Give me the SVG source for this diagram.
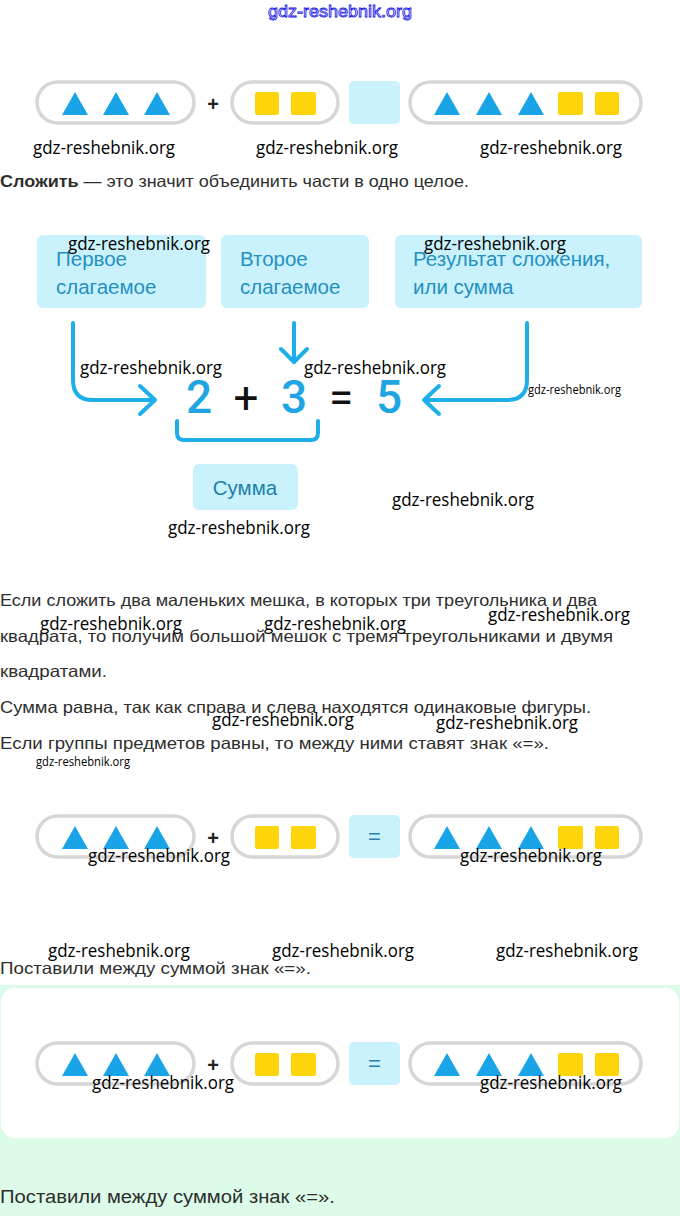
<svg xmlns="http://www.w3.org/2000/svg" xmlns:xlink="http://www.w3.org/1999/xlink" width="680" height="1216" viewBox="0 0 680 1216">
<style>
.wm{font-family:"Open Sans","Noto Sans",sans-serif;font-size:18.5px;fill:#000}
.wms{font-family:"Open Sans","Noto Sans",sans-serif;font-size:12px;fill:#000}
.body{font-family:"Liberation Sans","Roboto",sans-serif;font-size:16.5px;fill:#2e2e2e}
.btxt{font-family:"Liberation Sans","Roboto",sans-serif;font-size:20.5px;fill:#2590c2}
.pill{fill:#fff;stroke:#d6d6d6;stroke-width:3.5}
.tri{fill:#1aa4e8}
.sq{fill:#fdd50a}
.lbox{fill:#c9f2fc}
.plus{font-family:"Liberation Sans",sans-serif;font-size:20px;font-weight:bold;fill:#222}
.eq{font-family:"Liberation Sans",sans-serif;font-size:22px;fill:#2a7fae}
.conn{fill:none;stroke:#1eaeea;stroke-width:4;stroke-linecap:round;stroke-linejoin:round}
.dig{font-family:"Roboto","Liberation Sans",sans-serif;font-size:46px;font-weight:500;fill:#1fa6e2}
.op{font-family:"Roboto","Liberation Sans",sans-serif;font-size:44px;font-weight:400;fill:#111}
</style>
<defs>
<g id="row">
<rect class="pill" x="37" y="0" width="157" height="41" rx="20.5"/>
<polygon class="tri" points="62,33 75,10 88,33"/>
<polygon class="tri" points="103,33 116,10 129,33"/>
<polygon class="tri" points="144,33 157,10 170,33"/>
<text class="plus" x="213" y="29" text-anchor="middle">+</text>
<rect class="pill" x="232" y="0" width="106" height="41" rx="20.5"/>
<rect class="sq" x="255" y="10" width="24" height="23" rx="2"/>
<rect class="sq" x="291" y="10" width="25" height="23" rx="2"/>
<rect class="lbox" x="349" y="-1" width="51" height="43" rx="5"/>
<rect class="pill" x="410" y="0" width="231" height="41" rx="20.5"/>
<polygon class="tri" points="434,33 447,10 460,33"/>
<polygon class="tri" points="476,33 489,10 502,33"/>
<polygon class="tri" points="518,33 531,10 544,33"/>
<rect class="sq" x="558" y="10" width="25" height="23" rx="2"/>
<rect class="sq" x="595" y="10" width="24" height="23" rx="2"/>
</g>
</defs>
<rect x="0" y="0" width="680" height="1216" fill="#fff"/>
<rect x="0" y="985" width="680" height="231" fill="#dcfbe9"/>
<rect x="1" y="988" width="678" height="150" rx="14" fill="#fff"/>

<text x="340" y="17" text-anchor="middle" font-family="Liberation Sans,sans-serif" font-size="16" fill="#fff" stroke="#2020e8" stroke-width="0.8" textLength="144" lengthAdjust="spacingAndGlyphs">gdz-reshebnik.org</text>

<g id="row1"><use xlink:href="#row" href="#row" y="82"/></g>

<text class="body" x="0" y="187" textLength="469" lengthAdjust="spacingAndGlyphs"><tspan font-weight="bold">Сложить</tspan> — это значит объединить части в одно целое.</text>

<g id="box1"><rect class="lbox" x="37" y="235" width="169" height="73" rx="6"/>
<text class="btxt" x="56" y="266">Первое</text><text class="btxt" x="56" y="294">слагаемое</text></g>
<g id="box2"><rect class="lbox" x="221" y="235" width="148" height="73" rx="6"/>
<text class="btxt" x="240" y="266">Второе</text><text class="btxt" x="240" y="294">слагаемое</text></g>
<g id="box3"><rect class="lbox" x="395" y="235" width="247" height="73" rx="6"/>
<text class="btxt" x="413" y="266">Результат сложения,</text><text class="btxt" x="413" y="294">или сумма</text></g>

<g id="connectors">
<path class="conn" d="M73,323 V380 Q73,400 93,400 H154"/>
<path class="conn" d="M140,386 L155,400 L140,414"/>
<path class="conn" d="M294,323 V362"/>
<path class="conn" d="M281,349 L294,362 L307,349"/>
<path class="conn" d="M527,323 V380 Q527,400 507,400 H425"/>
<path class="conn" d="M439,386 L424,400 L439,414"/>
<path class="conn" d="M177,421 V433 Q177,440 184,440 H311 Q318,440 318,433 V421"/>
</g>

<g id="equation">
<text class="dig" x="199" y="413" text-anchor="middle">2</text>
<text class="op" x="246" y="413" text-anchor="middle">+</text>
<text class="dig" x="294" y="413" text-anchor="middle">3</text>
<text class="op" x="341" y="413" text-anchor="middle">=</text>
<text class="dig" x="389" y="413" text-anchor="middle">5</text>
</g>

<g id="summa"><rect class="lbox" x="193" y="464" width="105" height="46" rx="6"/>
<text class="btxt" x="245" y="495" text-anchor="middle" style="fill:#1c7fac">Сумма</text></g>

<text class="body" x="0" y="606" textLength="597" lengthAdjust="spacingAndGlyphs">Если сложить два маленьких мешка, в которых три треугольника и два</text>
<text class="body" x="0" y="642" textLength="613" lengthAdjust="spacingAndGlyphs">квадрата, то получим большой мешок с тремя треугольниками и двумя</text>
<text class="body" x="0" y="677" textLength="107" lengthAdjust="spacingAndGlyphs">квадратами.</text>
<text class="body" x="0" y="713" textLength="591" lengthAdjust="spacingAndGlyphs">Сумма равна, так как справа и слева находятся одинаковые фигуры.</text>
<text class="body" x="0" y="749" textLength="549" lengthAdjust="spacingAndGlyphs">Если группы предметов равны, то между ними ставят знак «=».</text>

<g id="row2"><use xlink:href="#row" href="#row" y="816"/>
<text class="eq" x="374.5" y="844" text-anchor="middle">=</text></g>

<text class="body" x="0" y="974" textLength="311" lengthAdjust="spacingAndGlyphs">Поставили между суммой знак «=».</text>

<g id="row3"><use xlink:href="#row" href="#row" y="1043"/>
<text class="eq" x="374.5" y="1071" text-anchor="middle">=</text></g>

<text class="body" x="0" y="1203" style="font-size:18px" textLength="335" lengthAdjust="spacingAndGlyphs">Поставили между суммой знак «=».</text>

<g id="watermarks">
<text class="wm" x="33" y="154" textLength="142" lengthAdjust="spacingAndGlyphs">gdz-reshebnik.org</text>
<text class="wm" x="256" y="154" textLength="142" lengthAdjust="spacingAndGlyphs">gdz-reshebnik.org</text>
<text class="wm" x="480" y="154" textLength="142" lengthAdjust="spacingAndGlyphs">gdz-reshebnik.org</text>
<text class="wm" x="68" y="250" textLength="142" lengthAdjust="spacingAndGlyphs">gdz-reshebnik.org</text>
<text class="wm" x="424" y="250" textLength="142" lengthAdjust="spacingAndGlyphs">gdz-reshebnik.org</text>
<text class="wm" x="80" y="374" textLength="142" lengthAdjust="spacingAndGlyphs">gdz-reshebnik.org</text>
<text class="wm" x="304" y="374" textLength="142" lengthAdjust="spacingAndGlyphs">gdz-reshebnik.org</text>
<text class="wms" x="528" y="394" textLength="93" lengthAdjust="spacingAndGlyphs">gdz-reshebnik.org</text>
<text class="wm" x="392" y="506" textLength="142" lengthAdjust="spacingAndGlyphs">gdz-reshebnik.org</text>
<text class="wm" x="168" y="534" textLength="142" lengthAdjust="spacingAndGlyphs">gdz-reshebnik.org</text>
<text class="wm" x="488" y="621" textLength="142" lengthAdjust="spacingAndGlyphs">gdz-reshebnik.org</text>
<text class="wm" x="40" y="630" textLength="142" lengthAdjust="spacingAndGlyphs">gdz-reshebnik.org</text>
<text class="wm" x="264" y="630" textLength="142" lengthAdjust="spacingAndGlyphs">gdz-reshebnik.org</text>
<text class="wm" x="212" y="726" textLength="142" lengthAdjust="spacingAndGlyphs">gdz-reshebnik.org</text>
<text class="wm" x="436" y="729" textLength="142" lengthAdjust="spacingAndGlyphs">gdz-reshebnik.org</text>
<text class="wms" x="36" y="766" textLength="94" lengthAdjust="spacingAndGlyphs">gdz-reshebnik.org</text>
<text class="wm" x="88" y="862" textLength="142" lengthAdjust="spacingAndGlyphs">gdz-reshebnik.org</text>
<text class="wm" x="460" y="862" textLength="142" lengthAdjust="spacingAndGlyphs">gdz-reshebnik.org</text>
<text class="wm" x="48" y="957" textLength="142" lengthAdjust="spacingAndGlyphs">gdz-reshebnik.org</text>
<text class="wm" x="272" y="957" textLength="142" lengthAdjust="spacingAndGlyphs">gdz-reshebnik.org</text>
<text class="wm" x="496" y="957" textLength="142" lengthAdjust="spacingAndGlyphs">gdz-reshebnik.org</text>
<text class="wm" x="92" y="1089" textLength="142" lengthAdjust="spacingAndGlyphs">gdz-reshebnik.org</text>
<text class="wm" x="480" y="1089" textLength="142" lengthAdjust="spacingAndGlyphs">gdz-reshebnik.org</text>
</g>
</svg>
